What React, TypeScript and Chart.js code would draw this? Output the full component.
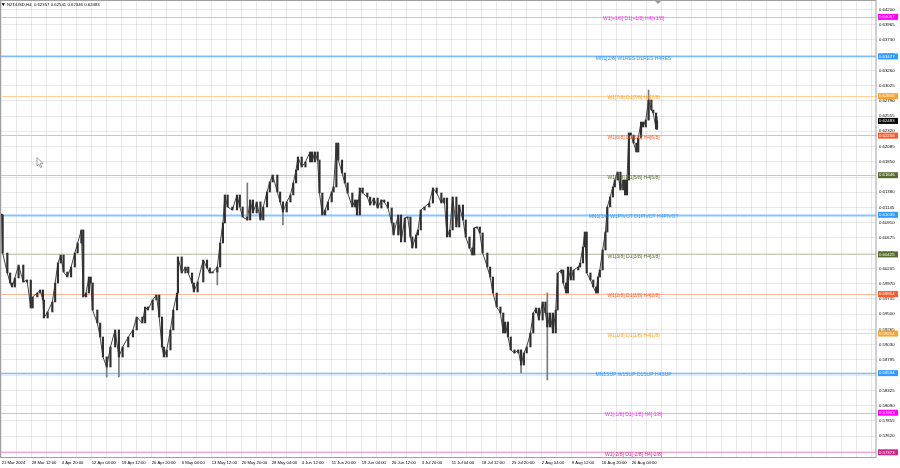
import React, { useEffect, useRef } from "react";
import { Chart, registerables } from "chart.js";
Chart.register(...registerables);

// ---------- data ----------
const symbolTitle = "NZDUSD,H4";
const lastBarOHLC = [0.62357, 0.62541, 0.62346, 0.62483];

const timeLabels = [
  "21 Mar 2024", "28 Mar 12:00", "4 Apr 20:00", "12 Apr 04:00", "19 Apr 12:00",
  "26 Apr 20:00", "6 May 04:00", "13 May 12:00", "20 May 20:00", "28 May 04:00",
  "4 Jun 12:00", "11 Jun 20:00", "19 Jun 04:00", "26 Jun 12:00", "3 Jul 20:00",
  "11 Jul 04:00", "18 Jul 12:00", "25 Jul 20:00", "2 Aug 04:00", "9 Aug 12:00",
  "16 Aug 20:00", "26 Aug 04:00",
];
const barsPerLabel = 32;
const barsPerGrid = 16;

const priceTicks = [
  0.642, 0.63965, 0.6373, 0.63495, 0.6326, 0.63025, 0.6279, 0.62555, 0.6232, 0.62085,
  0.6185, 0.61615, 0.6138, 0.61145, 0.6091, 0.60675, 0.6044, 0.60205, 0.5997, 0.59735,
  0.595, 0.59265, 0.5903, 0.58795, 0.5856, 0.58325, 0.5809, 0.57855, 0.5762, 0.57385,
];

// H4 bar number (since 21 Mar 2024) of each sampled candle
const barIndex = [
  0, 1, 6, 9, 11, 14, 18, 23, 27, 31,
  33, 38, 41, 44, 45, 49, 54, 57, 60, 63,
  66, 70, 74, 78, 81, 85, 87, 90, 93, 95,
  97, 102, 105, 108, 112, 116, 121, 125, 129, 135,
  140, 144, 150, 153, 156, 161, 165, 168, 171, 173,
  176, 180, 183, 187, 188, 192, 196, 199, 203, 205,
  209, 215, 219, 222, 225, 230, 233, 236, 238, 241,
  246, 251, 254, 257, 262, 265, 268, 272, 276, 279,
  283, 286, 289, 294, 297, 300, 304, 308, 311, 314,
  316, 320, 324, 329, 331, 334, 337, 339, 342, 345,
  348, 352, 354, 357, 359, 363, 366, 369, 374, 377,
  379, 382, 385, 390, 393, 397, 401, 405, 408, 412,
  416, 418, 423, 426, 430, 433, 436, 438, 442, 444,
  447, 451, 456, 460, 464, 469, 472, 475, 478, 481,
  485, 488, 492, 495, 499, 502, 504, 507, 510, 513,
  518, 521, 524, 528, 532, 535, 537, 540, 543, 547,
  551, 554, 557, 560, 564, 567, 570, 573, 577, 580,
  582, 585, 588, 591, 593, 597, 599, 602, 604, 607,
  610, 615, 617, 620, 622, 624, 628, 631, 634, 636,
  638, 641, 644, 646, 649, 652, 654, 657, 660, 663,
  665, 667, 669, 671, 674, 677, 679, 682, 684, 687,
  690, 693, 695, 698, 699,
];

const closes = [
  0.61029, 0.60443, 0.60135, 0.59981, 0.59919, 0.60058, 0.60258, 0.59996, 0.60027, 0.59595,
  0.59765, 0.59826, 0.59873, 0.59719, 0.59441, 0.59534, 0.59688, 0.59981, 0.60289, 0.60412,
  0.6015, 0.60073, 0.60227, 0.60443, 0.60597, 0.60798, 0.59765, 0.59826, 0.60073, 0.59981,
  0.59564, 0.59364, 0.59148, 0.5884, 0.58685, 0.58994, 0.59256, 0.5884, 0.58994, 0.59148,
  0.59256, 0.59456, 0.59364, 0.59611, 0.59564, 0.59719, 0.59796, 0.59456, 0.58994, 0.5884,
  0.58948, 0.59256, 0.59564, 0.59826, 0.60382, 0.60135, 0.60227, 0.60135, 0.59981, 0.59842,
  0.59996, 0.60335, 0.60212, 0.60135, 0.6015, 0.60227, 0.60597, 0.60906, 0.61338, 0.61153,
  0.61106, 0.61338, 0.61153, 0.60998, 0.60952, 0.61261, 0.6106, 0.6123, 0.60952, 0.61153,
  0.61384, 0.61538, 0.61646, 0.61384, 0.6123, 0.61076, 0.6123, 0.61338, 0.61523, 0.61723,
  0.61924, 0.61769, 0.61847, 0.62001, 0.61847, 0.62001, 0.61877, 0.61368, 0.61029, 0.61106,
  0.6123, 0.61384, 0.61461, 0.62139, 0.61877, 0.61677, 0.61523, 0.61368, 0.61153, 0.61261,
  0.61029, 0.61446, 0.61368, 0.61307, 0.61183, 0.61291, 0.61137, 0.61261, 0.6123, 0.61137,
  0.60906, 0.60721, 0.61029, 0.60613, 0.60983, 0.60998, 0.6069, 0.6052, 0.60721, 0.60798,
  0.61106, 0.61153, 0.61214, 0.61446, 0.61368, 0.61214, 0.61291, 0.6069, 0.60798, 0.61307,
  0.60844, 0.61183, 0.60952, 0.6069, 0.6052, 0.60412, 0.60829, 0.60844, 0.60752, 0.60443,
  0.60227, 0.60073, 0.59826, 0.59611, 0.59518, 0.5921, 0.59379, 0.59148, 0.58948, 0.58901,
  0.58948, 0.58716, 0.58901, 0.58994, 0.5921, 0.59518, 0.59595, 0.5941, 0.59688, 0.59518,
  0.59302, 0.59518, 0.5921, 0.59564, 0.60135, 0.60181, 0.59981, 0.59826, 0.60227, 0.60027,
  0.60181, 0.60227, 0.60289, 0.60536, 0.60767, 0.60135, 0.60027, 0.59919, 0.59826, 0.60073,
  0.60181, 0.6049, 0.60767, 0.61153, 0.61307, 0.61461, 0.61569, 0.61692, 0.61415, 0.61569,
  0.61338, 0.61569, 0.62294, 0.62263, 0.62139, 0.62001, 0.62217, 0.62463, 0.62386, 0.62494,
  0.62803, 0.62648, 0.62602, 0.62357, 0.62483,
];

// notable wicks (bar number, low, high)
const wickBars = [112, 125, 230, 262, 300, 554, 582, 690, 699];
const wickLows = [0.58531, 0.58531, 0.5995, 0.60952, 0.60875, 0.58593, 0.58485, 0.62494, 0.62346];
const wickHighs = [0.5884, 0.59256, 0.60227, 0.61523, 0.6123, 0.58948, 0.59826, 0.62957, 0.62541];

// Murrey math levels
const levelValues = [0.64087, 0.63477, 0.62866, 0.62256, 0.61646, 0.61035, 0.60425, 0.59814, 0.59204, 0.58594, 0.57983, 0.57373];
const levelTexts = [
  "W1[+1/8] D1[+1/8] H4[+1/8]",
  "MN1[2/8] W1RES D1RES H4RES",
  "W1[7/8] D1[7/8] H4[7/8]",
  "W1[6/8] D1[6/8] H4[6/8]",
  "W1[5/8] D1[5/8] H4[5/8]",
  "MN1[1/8] W1PIVOT D1PIVOT H4PIVOT",
  "W1[3/8] D1[3/8] H4[3/8]",
  "W1[2/8] D1[2/8] H4[2/8]",
  "W1[1/8] D1[1/8] H4[1/8]",
  "MN1SUP W1SUP D1SUP H4SUP",
  "W1[-1/8] D1[-1/8] H4[-1/8]",
  "W1[-2/8] D1[-2/8] H4[-2/8]",
];

// ---------- styles ----------
const levelLineColors = ["#f6a6f6", "#7cbcff", "#ffd09a", "#ffb49c", "#c9c9b8", "#8cc4ff", "#c9c9b8", "#ffb49c", "#ffd6a6", "#7cbcff", "#f6a6f6", "#f0a4d0"];
const levelTextColors = ["#f030f0", "#3399ff", "#ff9f1a", "#ff5a26", "#556b2f", "#3399ff", "#556b2f", "#ff5a26", "#ffa126", "#3399ff", "#f030f0", "#d02a90"];
const levelBoxColors = ["#ff00ff", "#3399ff", "#ffa126", "#ff5a26", "#556b2f", "#3399ff", "#556b2f", "#ff5a26", "#ffa126", "#3399ff", "#ff00ff", "#c8288a"];
const levelWidths = [1, 1.3, 1, 1, 1, 2, 1, 1, 1, 1.3, 1, 1];
const levelTextBar = 674;
const FONT = '"Liberation Sans", Arial, sans-serif';
const gridColor = "rgba(0,0,0,0.085)";

const overlayPlugin = {
  id: "overlay",
  beforeDatasetsDraw(chart: any) {
    const { ctx, chartArea: a, scales } = chart;
    const y = scales.y;
    ctx.save();
    levelValues.forEach((v, i) => {
      const py = Math.round(y.getPixelForValue(v)) + 0.5;
      ctx.strokeStyle = levelLineColors[i];
      ctx.lineWidth = levelWidths[i];
      ctx.beginPath();
      ctx.moveTo(a.left, py);
      ctx.lineTo(a.right, py);
      ctx.stroke();
    });
    ctx.restore();
  },
  afterDraw(chart: any) {
    const { ctx, chartArea: a, scales } = chart;
    const x = scales.x;
    const y = scales.y;
    ctx.save();
    // level texts
    ctx.font = `5px ${FONT}`;
    ctx.textAlign = "center";
    ctx.textBaseline = "top";
    const tx = x.getPixelForValue(levelTextBar);
    levelValues.forEach((v, i) => {
      const py = y.getPixelForValue(v);
      ctx.fillStyle = levelTextColors[i];
      ctx.fillText(levelTexts[i], tx, py - 0.3);
    });
    // frame
    ctx.strokeStyle = "#a0a0a0";
    ctx.lineWidth = 1;
    ctx.strokeRect(0.5, 0.5, a.right - 0.5, a.bottom);
    // axis boxes
    ctx.font = `4.3px ${FONT}`;
    ctx.textAlign = "left";
    ctx.textBaseline = "middle";
    const drawBox = (v: number, color: string) => {
      const py = y.getPixelForValue(v);
      ctx.fillStyle = color;
      ctx.fillRect(a.right + 2, py - 2.8, 20, 6);
      ctx.fillStyle = "#ffffff";
      ctx.fillText(v.toFixed(5), a.right + 3, py + 0.3);
    };
    levelValues.forEach((v, i) => drawBox(v, levelBoxColors[i]));
    drawBox(lastBarOHLC[3], "#000000");
    // header
    ctx.fillStyle = "#000";
    ctx.beginPath();
    ctx.moveTo(1.5, 3.2);
    ctx.lineTo(5, 3.2);
    ctx.lineTo(3.25, 6);
    ctx.closePath();
    ctx.fill();
    ctx.font = `4.3px ${FONT}`;
    ctx.textBaseline = "middle";
    ctx.fillText(`${symbolTitle}  ${lastBarOHLC.map((v) => v.toFixed(5)).join(" ")}`, 7, 4.8);
    // chart shift marker
    const sx = x.getPixelForValue(barIndex[barIndex.length - 1]) + 1;
    ctx.fillStyle = "#9a9a9a";
    ctx.beginPath();
    ctx.moveTo(sx - 3, 1);
    ctx.lineTo(sx + 3, 1);
    ctx.lineTo(sx, 4);
    ctx.closePath();
    ctx.fill();
    // mouse cursor
    ctx.fillStyle = "#ffffff";
    ctx.strokeStyle = "#8a8a8a";
    ctx.lineWidth = 0.8;
    ctx.beginPath();
    ctx.moveTo(37, 157.5);
    ctx.lineTo(37, 166);
    ctx.lineTo(39, 164.2);
    ctx.lineTo(40.6, 167.6);
    ctx.lineTo(41.8, 167);
    ctx.lineTo(40.3, 163.7);
    ctx.lineTo(43, 163.5);
    ctx.closePath();
    ctx.fill();
    ctx.stroke();
    ctx.restore();
  },
};

export default function App() {
  const ref = useRef<HTMLCanvasElement | null>(null);
  useEffect(() => {
    if (!ref.current) return;
    const lineData = barIndex.map((b, i) => ({ x: b, y: closes[i] }));
    const bodyData = barIndex.map((b, i) => ({ x: b, y: [i === 0 ? closes[0] : closes[i - 1], closes[i]] }));
    const wickData = wickBars.map((b, i) => ({ x: b, y: [wickLows[i], wickHighs[i]] }));
    const gridBars: number[] = [];
    for (let b = 0; b <= 928; b += barsPerGrid) gridBars.push(b);

    const chart = new Chart(ref.current, {
      type: "bar",
      data: {
        datasets: [
          {
            type: "line",
            data: lineData as any,
            borderColor: "#444444",
            borderWidth: 1,
            pointRadius: 0,
            tension: 0,
            order: 3,
          } as any,
          {
            type: "bar",
            data: wickData as any,
            backgroundColor: "#7a7a7a",
            barThickness: 1,
            grouped: false,
            order: 2,
          } as any,
          {
            type: "bar",
            data: bodyData as any,
            backgroundColor: "#303030",
            barThickness: 1.5,
            minBarLength: 1,
            grouped: false,
            order: 1,
          } as any,
        ],
      },
      options: {
        animation: false,
        responsive: true,
        maintainAspectRatio: false,
        events: [],
        layout: { padding: { left: 1, top: 1, right: 0, bottom: 0 } },
        plugins: { legend: { display: false }, tooltip: { enabled: false } },
        scales: {
          x: {
            type: "linear",
            position: "bottom",
            min: -0.75,
            max: 932.6,
            offset: false,
            grid: { color: gridColor, lineWidth: 1, drawTicks: false, offset: false },
            border: { display: false },
            afterBuildTicks: (s: any) => {
              s.ticks = gridBars.map((v) => ({ value: v }));
            },
            afterFit: (s: any) => {
              s.height = 11;
              s.paddingLeft = 0;
              s.paddingRight = 0;
              s.paddingTop = 0;
              s.paddingBottom = 0;
            },
            ticks: {
              autoSkip: false,
              maxRotation: 0,
              minRotation: 0,
              padding: 3,
              align: "start",
              color: "#000",
              font: { family: FONT, size: 4.2 },
              callback: (v: any) => {
                const k = Number(v) / barsPerLabel;
                return Number.isInteger(k) && k < timeLabels.length ? timeLabels[k] : "";
              },
            },
          } as any,
          y: {
            type: "linear",
            position: "right",
            min: 0.572975,
            max: 0.643291,
            grid: { color: gridColor, lineWidth: 1, drawTicks: false },
            border: { display: false },
            afterBuildTicks: (s: any) => {
              s.ticks = priceTicks.map((v) => ({ value: v }));
            },
            afterFit: (s: any) => {
              s.width = 24;
              s.paddingLeft = 0;
              s.paddingRight = 0;
              s.paddingTop = 0;
              s.paddingBottom = 0;
            },
            ticks: {
              padding: 3,
              color: "#000",
              font: { family: FONT, size: 4.3 },
              callback: (v: any) => Number(v).toFixed(5),
            },
          } as any,
        },
      },
      plugins: [overlayPlugin],
    });
    return () => chart.destroy();
  }, []);

  return (
    <div style={{ position: "fixed", left: 0, top: 0, width: 900, height: 468, background: "#fff" }}>
      <canvas ref={ref} />
    </div>
  );
}
